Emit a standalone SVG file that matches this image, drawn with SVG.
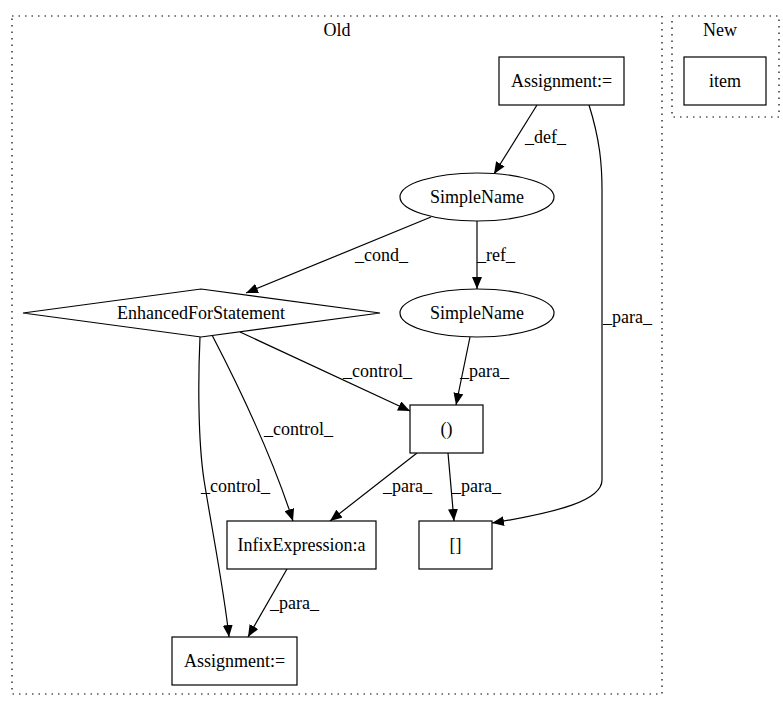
<svg xmlns="http://www.w3.org/2000/svg" width="783" height="712" viewBox="0 0 783 712" font-family="'Liberation Serif', 'Times New Roman', serif" font-size="18">
<defs>
<style>
text{font-family:'Liberation Serif','Times New Roman',serif;font-size:18px;fill:#000;text-anchor:middle}
.n{fill:#fff;stroke:#000;stroke-width:1.2}
.c{fill:none;stroke:#000;stroke-width:1.2;stroke-dasharray:1.5,5}
.e{fill:none;stroke:#000;stroke-width:1.2}
.el{text-anchor:start}
</style>
<marker id="a" viewBox="0 0 12 10" refX="12" refY="5" markerWidth="12" markerHeight="10" markerUnits="userSpaceOnUse" orient="auto">
<path d="M0,0L12,5L0,10z" fill="#000"/>
</marker>
</defs>
<rect width="783" height="712" fill="#fff"/>
<g id="cluster_old">
<rect class="c" x="12" y="16" width="650" height="678"/>
<text x="337" y="36">Old</text>
</g>
<g id="cluster_new">
<rect class="c" x="672" y="16" width="107" height="101"/>
<text x="720" y="36">New</text>
</g>
<g id="edges">
<path class="e" marker-end="url(#a)" d="M537,105L494,174"/>
<text class="el" x="525" y="143">_def_</text>
<path class="e" marker-end="url(#a)" d="M589,105C600,140 602,165 602,190L602,480C602,500 560,512 492,523"/>
<text class="el" x="603" y="323">_para_</text>
<path class="e" marker-end="url(#a)" d="M431,217L246,293"/>
<text class="el" x="355" y="261">_cond_</text>
<path class="e" marker-end="url(#a)" d="M477,221L477,289"/>
<text class="el" x="477" y="261">_ref_</text>
<path class="e" marker-end="url(#a)" d="M470,337L456,405"/>
<text class="el" x="460" y="377">_para_</text>
<path class="e" marker-end="url(#a)" d="M240,332L410,411"/>
<text class="el" x="343" y="377">_control_</text>
<path class="e" marker-end="url(#a)" d="M212,335C238,385 270,450 293,521"/>
<text class="el" x="264" y="435">_control_</text>
<path class="e" marker-end="url(#a)" d="M200,337C198,380 198,440 204,480C212,530 224,590 229,637"/>
<text class="el" x="201" y="492">_control_</text>
<path class="e" marker-end="url(#a)" d="M417,453L330,521"/>
<text class="el" x="383" y="492">_para_</text>
<path class="e" marker-end="url(#a)" d="M448,453L454,521"/>
<text class="el" x="452" y="492">_para_</text>
<path class="e" marker-end="url(#a)" d="M287,569L248,637"/>
<text class="el" x="270" y="609">_para_</text>
</g>
<g id="item">
<rect class="n" x="684" y="57" width="82" height="48"/>
<text x="725" y="87">item</text>
</g>
<g id="assign_top">
<rect class="n" x="499" y="57" width="125" height="48"/>
<text x="561.5" y="87">Assignment:=</text>
</g>
<g id="simplename1">
<ellipse class="n" cx="477" cy="197" rx="77" ry="24"/>
<text x="477" y="203">SimpleName</text>
</g>
<g id="simplename2">
<ellipse class="n" cx="477" cy="313" rx="77" ry="24"/>
<text x="477" y="319">SimpleName</text>
</g>
<g id="enhancedfor">
<polygon class="n" points="201,289 380,313 201,337 23,313"/>
<text x="201" y="319">EnhancedForStatement</text>
</g>
<g id="paren">
<rect class="n" x="410" y="405" width="73" height="48"/>
<text x="446.5" y="435">()</text>
</g>
<g id="infix">
<rect class="n" x="227" y="521" width="149" height="48"/>
<text x="301.5" y="551">InfixExpression:a</text>
</g>
<g id="bracket">
<rect class="n" x="419" y="521" width="73" height="48"/>
<text x="455.5" y="551">[]</text>
</g>
<g id="assign_bottom">
<rect class="n" x="172" y="637" width="125" height="48"/>
<text x="234.5" y="667">Assignment:=</text>
</g>
</svg>
